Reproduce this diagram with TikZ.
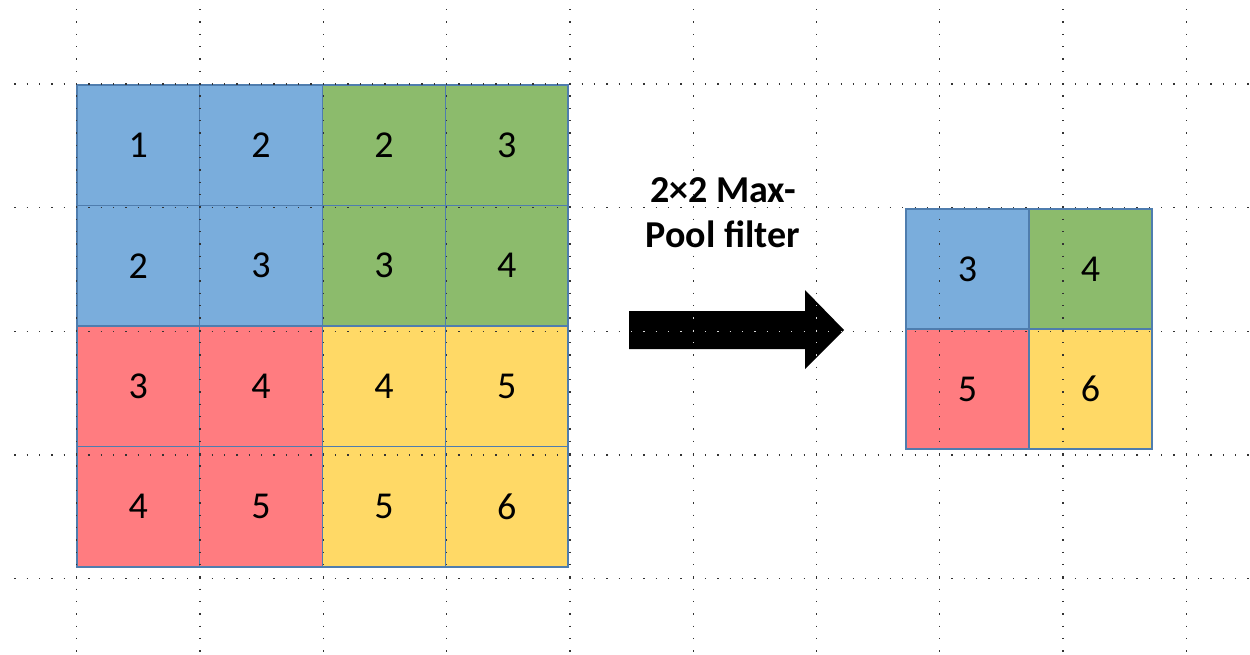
\documentclass[tikz,border=0pt]{standalone}
\usepackage{fontspec}
\setmainfont{Carlito}
\definecolor{cblue}{HTML}{7AADDC}
\definecolor{cgreen}{HTML}{8CBB6C}
\definecolor{cred}{HTML}{FF7C80}
\definecolor{cyellow}{HTML}{FFD966}
\definecolor{cellborder}{HTML}{4F7DAE}
% dotted page grid: vertical and horizontal guide lines
\newcommand\dotgrid[1]{%
  \foreach \i in {0,...,9}
    \draw[griddot,draw=#1] ({76.7+\i*123.3},{84-6*12.37-0.65}) -- ({76.7+\i*123.3},654);
  \foreach \j in {0,...,4}
    \draw[griddot,draw=#1] ({76.7-5*12.33-0.65},{84+\j*123.7}) -- (1250,{84+\j*123.7});
}
\begin{document}
\begin{tikzpicture}[x=1pt,y=-1pt,
  cell/.style={draw=cellborder, line width=1.4pt, minimum width=122.75pt,
    minimum height=120.5pt, inner sep=0pt, text=black,
    font=\fontsize{38}{46}\selectfont},
  smallcell/.style={cell, minimum width=123pt, minimum height=120pt},
  griddot/.style={line width=1.3pt, dash pattern=on 1.3pt off 11.03pt},
  caption/.style={align=center, font=\bfseries\fontsize{38}{45}\selectfont},
  bigarrow/.style={fill=black}]
\useasboundingbox (0,0) rectangle (1250,654);
\fill[white] (0,0) rectangle (1250,654);

% 4x4 input feature map
\foreach \r/\row in {1/{1,2,2,3}, 2/{2,3,3,4}, 3/{3,4,4,5}, 4/{4,5,5,6}}{
  \foreach \v [count=\c] in \row {
    \pgfmathsetmacro{\cx}{77+(\c-0.5)*122.75}
    \pgfmathsetmacro{\cy}{85+(\r-0.5)*120.5}
    \ifnum\r<3
      \ifnum\c<3 \def\fc{cblue}\else\def\fc{cgreen}\fi
    \else
      \ifnum\c<3 \def\fc{cred}\else\def\fc{cyellow}\fi
    \fi
    \node[cell, fill=\fc] (in-\r-\c) at (\cx,\cy) {\v};
  }
}

% 2x2 pooled output
\node[smallcell, fill=cblue]   (out-1-1) at (967.5,269) {3};
\node[smallcell, fill=cgreen]  (out-1-2) at (1090.5,269) {4};
\node[smallcell, fill=cred]    (out-2-1) at (967.5,389) {5};
\node[smallcell, fill=cyellow] (out-2-2) at (1090.5,389) {6};

% block arrow
\def\arrowpath{(629,311) -- (805,311) -- (805,290) -- (844,330) -- (805,369) -- (805,349) -- (629,349) -- cycle}
\fill[bigarrow] \arrowpath;

\node[caption] (pool) at (723,213) {2×2 Max-\\Pool filter};

% guide grid over everything, light where it crosses the arrow
\dotgrid{black!80}
\begin{scope}
  \clip \arrowpath;
  \dotgrid{white!85!black}
\end{scope}
\end{tikzpicture}
\end{document}
